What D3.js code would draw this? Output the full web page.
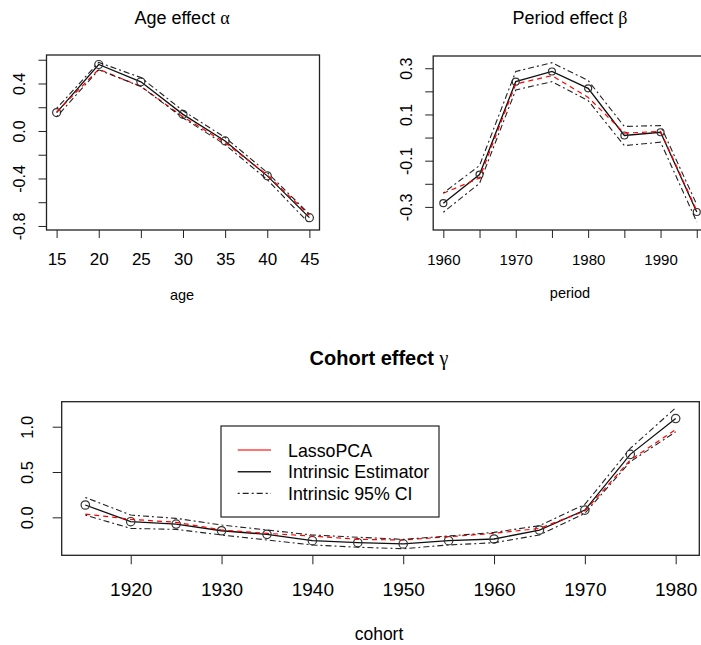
<!DOCTYPE html>
<html>
<head>
<meta charset="utf-8">
<script src="https://cdn.jsdelivr.net/npm/d3@7"></script>
<style>
  body { margin: 0; background: #fff; }
  text { font-family: "Liberation Sans", Arial, sans-serif; fill: #000; }
</style>
</head>
<body>
<div id="chart"></div>
<script>
// age panel
const ageX = [15, 20, 25, 30, 35, 40, 45];
const ageIE = [0.155, 0.56, 0.414, 0.14, -0.084, -0.378, -0.73];
const ageLasso = [0.16, 0.52, 0.375, 0.12, -0.098, -0.37, -0.71];
const ageUpper = [0.19, 0.578, 0.45, 0.17, -0.055, -0.35, -0.70];
const ageLower = [0.12, 0.515, 0.375, 0.11, -0.115, -0.41, -0.78];
const ageXTicks = [15, 20, 25, 30, 35, 40, 45];
const ageYTicks = [-0.8, -0.6, -0.4, -0.2, 0.0, 0.2, 0.4, 0.6];
const ageYLabels = ["-0.8", "", "-0.4", "", "0.0", "", "0.4", ""];

// period panel
const periodX = [1960, 1965, 1970, 1975, 1980, 1985, 1990, 1995];
const periodIE = [-0.284, -0.16, 0.242, 0.286, 0.213, 0.009, 0.023, -0.322];
const periodLasso = [-0.241, -0.175, 0.232, 0.268, 0.174, 0.019, 0.027, -0.316];
const periodUpper = [-0.24, -0.121, 0.286, 0.324, 0.247, 0.048, 0.052, -0.29];
const periodLower = [-0.323, -0.198, 0.206, 0.242, 0.16, -0.035, -0.02, -0.365];
const periodXTicks = [1960, 1965, 1970, 1975, 1980, 1985, 1990, 1995];
const periodXLabels = ["1960", "", "1970", "", "1980", "", "1990", ""];
const periodYTicks = [-0.3, -0.2, -0.1, 0.0, 0.1, 0.2, 0.3];
const periodYLabels = ["-0.3", "", "-0.1", "", "0.1", "", "0.3"];

// cohort panel
const cohortX = [1915, 1920, 1925, 1930, 1935, 1940, 1945, 1950, 1955, 1960, 1965, 1970, 1975, 1980];
const cohortIE = [0.136, -0.048, -0.074, -0.148, -0.188, -0.258, -0.28, -0.294, -0.258, -0.239, -0.14, 0.08, 0.695, 1.09];
const cohortLasso = [0.036, -0.022, -0.055, -0.14, -0.177, -0.206, -0.243, -0.25, -0.214, -0.177, -0.122, 0.069, 0.632, 0.97];
const cohortUpper = [0.22, 0.025, -0.011, -0.085, -0.14, -0.195, -0.22, -0.243, -0.206, -0.166, -0.092, 0.143, 0.76, 1.208];
const cohortLower = [0.025, -0.122, -0.133, -0.195, -0.25, -0.305, -0.33, -0.346, -0.305, -0.28, -0.195, 0.044, 0.613, 0.944];
const cohortXTicks = [1920, 1930, 1940, 1950, 1960, 1970, 1980];
const cohortYTicks = [0.0, 0.5, 1.0];
const cohortYLabels = ["0.0", "0.5", "1.0"];

const legendNames = ["LassoPCA", "Intrinsic Estimator", "Intrinsic 95% CI"];

const svg = d3.select("#chart").append("svg")
  .attr("width", 701)
  .attr("height", 645);

function panel(p) {
  const x = d3.scaleLinear().domain(p.xDomain).range(p.xRange);
  const y = d3.scaleLinear().domain(p.yDomain).range(p.yRange);
  const g = svg.append("g");

  // axes
  const ax = d3.axisBottom(x).tickValues(p.xTicks).tickSize(p.tick).tickSizeOuter(0)
    .tickFormat((d, i) => p.xLabels ? p.xLabels[i] : String(d));
  const gx = g.append("g").attr("transform", `translate(0,${p.yRange[0]})`).call(ax);
  gx.select(".domain").remove();
  gx.selectAll("line").attr("stroke", "#222");
  gx.selectAll("text").attr("font-size", p.xFont).attr("dy", 0).attr("y", p.xBase);

  const ay = d3.axisLeft(y).tickValues(p.yTicks).tickSize(p.tick).tickSizeOuter(0)
    .tickFormat((d, i) => p.yLabels[i]);
  const gy = g.append("g").attr("transform", `translate(${p.xRange[0]},0)`).call(ay);
  gy.select(".domain").remove();
  gy.selectAll("line").attr("stroke", "#222");
  gy.selectAll("text").attr("font-size", p.yFont).attr("x", 0).attr("dy", 0)
    .attr("text-anchor", "middle")
    .attr("transform", `translate(${-p.yBase},0) rotate(-90)`);

  // box
  g.append("rect")
    .attr("x", p.xRange[0]).attr("y", p.yRange[1])
    .attr("width", p.xRange[1] - p.xRange[0])
    .attr("height", p.yRange[0] - p.yRange[1])
    .attr("fill", "none").attr("stroke", "#222").attr("stroke-width", 1.3);

  const line = d3.line().x((d, i) => x(p.xs[i])).y(d => y(d));

  g.append("path").datum(p.ie).attr("d", line)
    .attr("fill", "none").attr("stroke", "#111").attr("stroke-width", 1.3);
  g.selectAll("circle.pt").data(p.ie).join("circle")
    .attr("class", "pt")
    .attr("cx", (d, i) => x(p.xs[i])).attr("cy", d => y(d)).attr("r", p.r)
    .attr("fill", "none").attr("stroke", "#333").attr("stroke-width", 1.2);

  g.append("path").datum(p.lasso).attr("d", line)
    .attr("fill", "none").attr("stroke", "#f00").attr("stroke-width", 1.2)
    .attr("stroke-dasharray", "5,4");

  [p.upper, p.lower].forEach(s => {
    g.append("path").datum(s).attr("d", line)
      .attr("fill", "none").attr("stroke", "#222").attr("stroke-width", 1.1)
      .attr("stroke-dasharray", "2,3,6,3");
  });

  // titles
  const cx = p.titleX;
  const t = g.append("text").attr("x", cx).attr("y", p.titleY)
    .attr("text-anchor", "middle").attr("font-size", p.titleFont)
    .attr("font-weight", p.titleBold ? "bold" : "normal");
  t.append("tspan").text(p.title + " ");
  t.append("tspan").attr("font-family", "Liberation Serif, serif").attr("font-weight", "normal")
    .text(p.greek);

  g.append("text").attr("x", cx).attr("y", p.labY)
    .attr("text-anchor", "middle").attr("font-size", p.labFont).text(p.label);

  return { x, y, g };
}

panel({
  xDomain: [13.8, 46.2], xRange: [46.5, 319.5],
  yDomain: [-0.834, 0.64], yRange: [230, 55],
  xs: ageX, ie: ageIE, lasso: ageLasso, upper: ageUpper, lower: ageLower,
  xTicks: ageXTicks, yTicks: ageYTicks, yLabels: ageYLabels,
  tick: 8, xBase: 34.5, xFont: 17, yFont: 16, yBase: 21.5, r: 4,
  title: "Age effect", greek: "α", titleX: 182, titleY: 24, titleFont: 18,
  label: "age", labY: 300, labFont: 14.5
});

panel({
  xDomain: [1958.6, 1996.4], xRange: [433.2, 706.9],
  yDomain: [-0.4, 0.353], yRange: [230, 56],
  xs: periodX, ie: periodIE, lasso: periodLasso, upper: periodUpper, lower: periodLower,
  xTicks: periodXTicks, xLabels: periodXLabels, yTicks: periodYTicks, yLabels: periodYLabels,
  tick: 8, xBase: 34.5, xFont: 15, yFont: 16, yBase: 21.5, r: 3.5,
  title: "Period effect", greek: "β", titleX: 570, titleY: 24, titleFont: 18,
  label: "period", labY: 298, labFont: 14.5
});

panel({
  xDomain: [1912.4, 1982.6], xRange: [61.7, 699.3],
  yDomain: [-0.419, 1.276], yRange: [555.3, 401.7],
  xs: cohortX, ie: cohortIE, lasso: cohortLasso, upper: cohortUpper, lower: cohortLower,
  xTicks: cohortXTicks, yTicks: cohortYTicks, yLabels: cohortYLabels,
  tick: 9, xBase: 40.7, xFont: 19, yFont: 16.5, yBase: 28.4, r: 4.2,
  title: "Cohort effect", greek: "γ", titleX: 379, titleY: 365, titleFont: 20, titleBold: true,
  label: "cohort", labY: 640, labFont: 17.5
});

// legend
const lg = svg.append("g").attr("transform", "translate(221,426)");
lg.append("rect").attr("width", 218).attr("height", 91)
  .attr("fill", "#fff").attr("stroke", "#222").attr("stroke-width", 1.2);
const legStroke = ["#f44", "#222", "#222"];
const legDash = [null, null, "2,3,6,3"];
legendNames.forEach((name, i) => {
  const yy = 24 + i * 21.7;
  lg.append("line").attr("x1", 16.7).attr("x2", 50).attr("y1", yy).attr("y2", yy)
    .attr("stroke", legStroke[i]).attr("stroke-width", 1.4)
    .attr("stroke-dasharray", legDash[i]);
  lg.append("text").attr("x", 67).attr("y", yy + 6.5).attr("font-size", 17.8).text(name);
});
</script>
</body>
</html>
